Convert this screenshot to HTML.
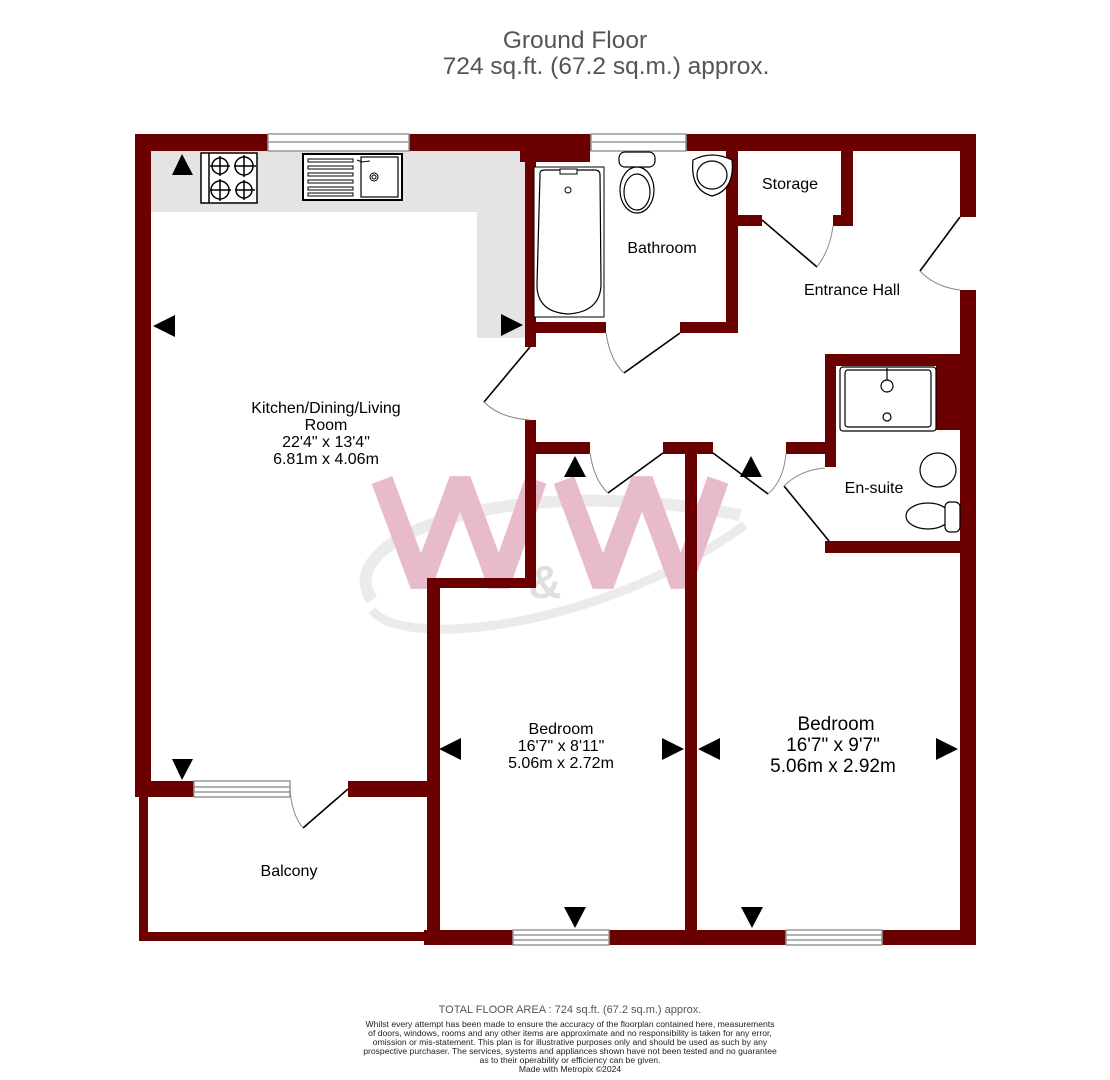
<!DOCTYPE html>
<html><head><meta charset="utf-8"><style>
html,body{margin:0;padding:0;background:#fff;}
svg{display:block;font-family:"Liberation Sans",sans-serif;}
</style></head><body>
<svg width="1110" height="1080" viewBox="0 0 1110 1080" xmlns="http://www.w3.org/2000/svg">
<text x="575" y="48" text-anchor="middle" font-size="24.5" fill="#555">Ground Floor</text>
<text x="606" y="74" text-anchor="middle" font-size="24.5" fill="#555">724 sq.ft. (67.2 sq.m.) approx.</text>

<polygon points="151,151 525,151 525,338 477,338 477,212 151,212" fill="#e4e4e4"/>

<g opacity="0.85">
<path d="M372,600 C330,540 500,470 740,515" stroke="#e8e8e8" stroke-width="12" fill="none"/>
<path d="M372,610 C400,650 600,630 745,525" stroke="#e8e8e8" stroke-width="9" fill="none"/>
<text x="545" y="598" font-size="46" font-weight="bold" fill="#dadada" text-anchor="middle">&amp;</text>
<polyline points="382,480 421,585 460,480 499,585 536,480" stroke="#e3b0c3" stroke-width="22" fill="none" stroke-linejoin="bevel"/>
<polyline points="564,480 603,585 642,480 681,585 718,480" stroke="#e3b0c3" stroke-width="22" fill="none" stroke-linejoin="bevel"/>
</g>

<g fill="#6b0000">
<rect x="135" y="134" width="133" height="17"/>
<rect x="409" y="134" width="182" height="17"/>
<rect x="520" y="134" width="70" height="28"/>
<rect x="686" y="134" width="290" height="17"/>
<rect x="135" y="134" width="16" height="663"/>
<rect x="525" y="134" width="11" height="213"/>
<rect x="525" y="322" width="81" height="11"/>
<rect x="680" y="322" width="58" height="11"/>
<rect x="726" y="150" width="12" height="183"/>
<rect x="738" y="215" width="24" height="11"/>
<rect x="841" y="150" width="12" height="76"/>
<rect x="833" y="215" width="20" height="11"/>
<rect x="960" y="134" width="16" height="83"/>
<rect x="960" y="290" width="16" height="655"/>
<rect x="825" y="354" width="140" height="12"/>
<rect x="825" y="354" width="11" height="113"/>
<rect x="936" y="366" width="26" height="64"/>
<rect x="825" y="541" width="140" height="12"/>
<rect x="525" y="442" width="65" height="12"/>
<rect x="663" y="442" width="50" height="12"/>
<rect x="786" y="442" width="45" height="12"/>
<rect x="525" y="420" width="11" height="168"/>
<rect x="427" y="578" width="109" height="10"/>
<rect x="427" y="578" width="13" height="367"/>
<rect x="685" y="442" width="12" height="503"/>
<rect x="424" y="930" width="89" height="15"/>
<rect x="609" y="930" width="177" height="15"/>
<rect x="882" y="930" width="94" height="15"/>
<rect x="135" y="781" width="59" height="16"/>
<rect x="348" y="781" width="92" height="16"/>
<rect x="139" y="797" width="9" height="144"/>
<rect x="139" y="932" width="290" height="9"/>
</g>

<g stroke="#999" stroke-width="1.5" fill="#fff">
<rect x="268" y="134" width="141" height="17"/>
<line x1="268" y1="142" x2="409" y2="142"/>
<rect x="591" y="134" width="95" height="17"/>
<line x1="591" y1="142" x2="686" y2="142"/>
<rect x="194" y="781" width="96" height="16"/>
<line x1="194" y1="787" x2="290" y2="787"/><line x1="194" y1="792" x2="290" y2="792"/>
<rect x="513" y="930" width="96" height="15"/>
<line x1="513" y1="935" x2="609" y2="935"/><line x1="513" y1="940" x2="609" y2="940"/>
<rect x="786" y="930" width="96" height="15"/>
<line x1="786" y1="935" x2="882" y2="935"/><line x1="786" y1="940" x2="882" y2="940"/>
</g>

<g stroke="#000" stroke-width="1.6" fill="none">
<line x1="530" y1="347" x2="484" y2="402"/>
<line x1="624" y1="373" x2="680" y2="333"/>
<line x1="608" y1="493" x2="663" y2="453"/>
<line x1="713" y1="453" x2="768" y2="494"/>
<line x1="784" y1="486" x2="829" y2="541"/>
<line x1="762" y1="220" x2="817" y2="267"/>
<line x1="960" y1="217" x2="920" y2="271"/>
<line x1="303" y1="828" x2="348" y2="789"/>
</g>
<g stroke="#888" stroke-width="1" fill="none">
<path d="M484,402 Q500,418 530,420"/>
<path d="M606,333 Q610,360 624,373"/>
<path d="M590,453 Q594,480 608,493"/>
<path d="M786,453 Q784,480 768,494"/>
<path d="M784,486 Q800,470 825,468"/>
<path d="M817,267 Q830,250 833,226"/>
<path d="M920,271 Q935,287 960,290"/>
<path d="M290,790 Q292,815 303,828"/>
</g>

<rect x="201" y="153" width="56" height="50" stroke="#000" stroke-width="1.5" fill="#fff"/>
<g stroke="#000" stroke-width="1.5" fill="none">
<line x1="209" y1="153" x2="209" y2="203"/>
<circle cx="220" cy="166" r="8"/><circle cx="244" cy="166" r="9"/>
<circle cx="220" cy="190" r="9"/><circle cx="244" cy="190" r="8"/>
<line x1="210" y1="166" x2="230" y2="166"/><line x1="220" y1="156" x2="220" y2="176"/>
<line x1="234" y1="166" x2="256" y2="166"/><line x1="244" y1="155" x2="244" y2="177"/>
<line x1="210" y1="190" x2="231" y2="190"/><line x1="220" y1="179" x2="220" y2="201"/>
<line x1="235" y1="190" x2="255" y2="190"/><line x1="244" y1="180" x2="244" y2="200"/>
</g>
<rect x="303" y="154" width="99" height="46" fill="#fff" stroke="#000" stroke-width="2"/>
<rect x="361" y="157" width="37" height="40" fill="none" stroke="#000" stroke-width="1.2"/>
<g stroke="#000" stroke-width="1" fill="none">
<rect x="308" y="159" width="45" height="3"/><rect x="308" y="166" width="45" height="3"/>
<rect x="308" y="173" width="45" height="3"/><rect x="308" y="180" width="45" height="3"/>
<rect x="308" y="187" width="45" height="3"/><rect x="308" y="193" width="45" height="3"/>
<circle cx="374" cy="177" r="4"/><circle cx="374" cy="177" r="2"/>
<path d="M357,160 L362,162 L370,161"/>
</g>
<rect x="534" y="167" width="70" height="150" fill="#fff" stroke="#000" stroke-width="1"/>
<path d="M540,175 Q539,170 545,170 L595,170 Q600,170 600,175 L601,285 Q600,312 568,314 Q537,312 537,285 Z" fill="none" stroke="#000" stroke-width="1.2"/>
<rect x="560" y="169" width="17" height="5" fill="#fff" stroke="#000" stroke-width="1"/>
<circle cx="568" cy="190" r="3" fill="none" stroke="#000"/>
<g stroke="#000" stroke-width="1.2" fill="#fff">
<rect x="619" y="152" width="36" height="15" rx="6"/>
<ellipse cx="637" cy="190" rx="17" ry="23"/>
<ellipse cx="637" cy="192" rx="13" ry="18"/>
<path d="M693,160 Q712,150 732,160 Q735,190 712,196 Q690,190 693,160 Z"/>
<ellipse cx="712" cy="175" rx="15" ry="14"/>
</g>
<g stroke="#000" stroke-width="1.2" fill="#fff">
<rect x="840" y="367" width="96" height="64" rx="3"/>
<rect x="845" y="370" width="86" height="57" rx="3"/>
<circle cx="887" cy="386" r="6"/><circle cx="887" cy="417" r="4"/>
<line x1="887" y1="368" x2="887" y2="380"/>
<ellipse cx="938" cy="470" rx="18" ry="17"/>
<ellipse cx="928" cy="516" rx="22" ry="13"/>
<rect x="945" y="502" width="15" height="30" rx="5"/>
</g>

<g fill="#000">
<polygon points="172,175 193,175 182,154"/>
<polygon points="153,326 175,315 175,337"/>
<polygon points="523,325 501,314 501,336"/>
<polygon points="172,759 193,759 182,780"/>
<polygon points="564,477 586,477 575,456"/>
<polygon points="740,477 762,477 751,456"/>
<polygon points="439,749 461,738 461,760"/>
<polygon points="684,749 662,738 662,760"/>
<polygon points="698,749 720,738 720,760"/>
<polygon points="958,749 936,738 936,760"/>
<polygon points="564,907 586,907 575,928"/>
<polygon points="741,907 763,907 752,928"/>
</g>

<g fill="#000" font-size="16" text-anchor="middle">
<text x="790" y="189">Storage</text>
<text x="662" y="253">Bathroom</text>
<text x="852" y="295">Entrance Hall</text>
<text x="326" y="413">Kitchen/Dining/Living</text>
<text x="326" y="430">Room</text>
<text x="326" y="447">22'4"  x 13'4"</text>
<text x="326" y="464">6.81m  x 4.06m</text>
<text x="874" y="493">En-suite</text>
<text x="561" y="734">Bedroom</text>
<text x="561" y="751">16'7"  x 8'11"</text>
<text x="561" y="768">5.06m  x 2.72m</text>
<text x="289" y="876">Balcony</text>
</g>
<g fill="#000" font-size="19" text-anchor="middle">
<text x="836" y="730">Bedroom</text>
<text x="833" y="751">16'7"  x 9'7"</text>
<text x="833" y="772">5.06m  x 2.92m</text>
</g>

<text x="570" y="1013" text-anchor="middle" font-size="11" fill="#555">TOTAL FLOOR AREA : 724 sq.ft. (67.2 sq.m.) approx.</text>
<g font-size="8.6" fill="#222" text-anchor="middle">
<text x="570" y="1027">Whilst every attempt has been made to ensure the accuracy of the floorplan contained here, measurements</text>
<text x="570" y="1036">of doors, windows, rooms and any other items are approximate and no responsibility is taken for any error,</text>
<text x="570" y="1045">omission or mis-statement. This plan is for illustrative purposes only and should be used as such by any</text>
<text x="570" y="1054">prospective purchaser. The services, systems and appliances shown have not been tested and no guarantee</text>
<text x="570" y="1063">as to their operability or efficiency can be given.</text>
<text x="570" y="1072">Made with Metropix ©2024</text>
</g>
</svg>
</body></html>
